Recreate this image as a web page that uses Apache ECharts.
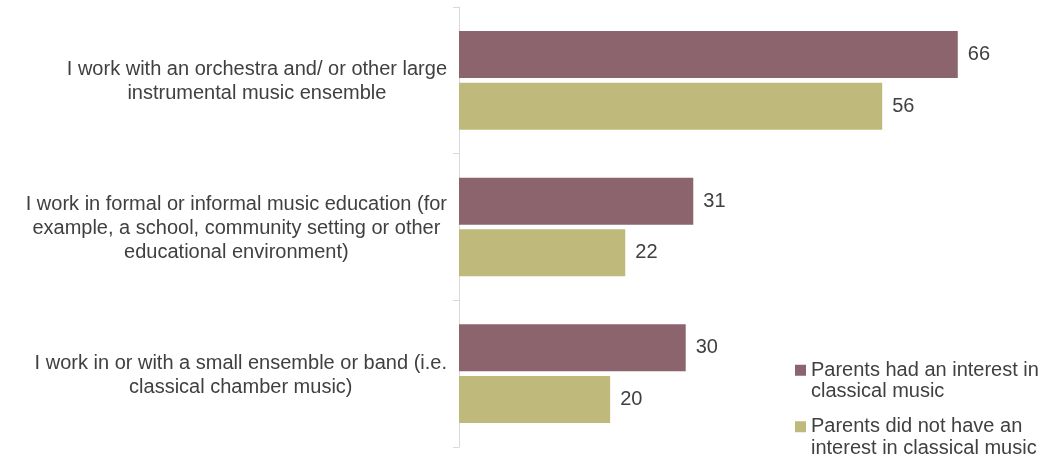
<!DOCTYPE html>
<html>
<head>
<meta charset="utf-8">
<script src="https://cdn.jsdelivr.net/npm/echarts@6/dist/echarts.min.js"></script>
<style>
  html, body { margin: 0; padding: 0; background: #ffffff; }
  #chart { width: 1046px; height: 459px; }
</style>
</head>
<body>
<div id="chart"></div>
<script>
// Work settings, one entry per group of bars (top to bottom)
const categories = [
  'I work with an orchestra and/ or other large\ninstrumental music ensemble',
  'I work in formal or informal music education (for\nexample, a school, community setting or other\neducational environment)',
  'I work in or with a small ensemble or band (i.e.\nclassical chamber music)'
];

const seriesNames = [
  'Parents had an interest in\nclassical music',
  'Parents did not have an\ninterest in classical music'
];

// Percentages
const parentsInterested = [66, 31, 30];
const parentsNotInterested = [56, 22, 20];

const textColor = '#404040';
const fontFamily = '"Liberation Sans", Arial, sans-serif';
const colors = ['#8b646e', '#bfba7c'];

const chart = echarts.init(document.getElementById('chart'), null, { renderer: 'canvas' });

const barLabel = {
  show: true,
  position: 'right',
  distance: 10,
  color: textColor,
  fontSize: 20,
  fontFamily: fontFamily
};

chart.setOption({
  backgroundColor: '#ffffff',
  animation: false,
  color: colors,
  grid: { left: 459, right: 58, top: 7, bottom: 12, containLabel: false },
  xAxis: {
    type: 'value',
    min: 0,
    max: 70,
    show: false
  },
  yAxis: {
    type: 'category',
    inverse: true,
    data: categories,
    axisLine: { show: true, lineStyle: { color: '#d9d9d9', width: 1 } },
    axisTick: { show: true, length: 6, lineStyle: { color: '#d9d9d9' } },
    axisLabel: {
      interval: 0,
      margin: 12,
      align: 'right',
      formatter: function (value) {
        return value.split('\n').map(function (line) { return '{c|' + line + '}'; }).join('\n');
      },
      rich: {
        c: {
          align: 'center',
          fontSize: 20,
          lineHeight: 24,
          padding: [3, 0, 0, 0],
          color: textColor,
          fontFamily: fontFamily
        }
      }
    },
    splitLine: { show: false }
  },
  legend: {
    orient: 'vertical',
    left: 795,
    top: 338,
    padding: 0,
    itemWidth: 11,
    itemHeight: 11,
    itemGap: -8,
    icon: 'rect',
    // leading blank line keeps the first text line level with the swatch
    formatter: function (name) { return '\n' + name; },
    textStyle: {
      color: textColor,
      fontSize: 20,
      lineHeight: 21.5,
      fontFamily: fontFamily
    },
    data: seriesNames
  },
  series: [
    {
      name: seriesNames[0],
      type: 'bar',
      data: parentsInterested,
      barWidth: 47,
      barGap: '10%',
      label: barLabel
    },
    {
      name: seriesNames[1],
      type: 'bar',
      data: parentsNotInterested,
      barWidth: 47,
      barGap: '10%',
      label: barLabel
    }
  ]
});
</script>
</body>
</html>
